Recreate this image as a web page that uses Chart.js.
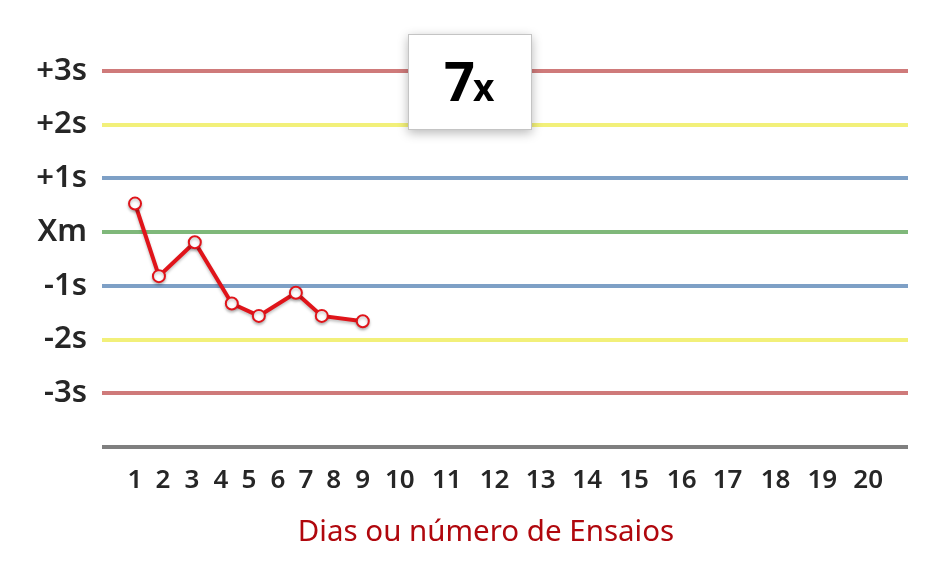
<!DOCTYPE html>
<html>
<head>
<meta charset="utf-8">
<script src="https://cdn.jsdelivr.net/npm/chart.js@4.4.1/dist/chart.umd.min.js"></script>
<style>
  html, body { margin: 0; padding: 0; background: #fff; }
  #wrap { width: 944px; height: 561px; }
</style>
</head>
<body>
<div id="wrap"><canvas id="canvas" width="944" height="561"></canvas></div>
<script>
// dias (rótulos do eixo x) e onde cada rótulo fica no eixo
var dayLabels = ['1', '2', '3', '4', '5', '6', '7', '8', '9', '10',
                 '11', '12', '13', '14', '15', '16', '17', '18', '19', '20'];
var dayTickPos = [1, 1.98, 3.0, 4.02, 5.0, 6.02, 7.0, 7.98, 9.0, 10.3,
                  11.95, 13.63, 15.25, 16.88, 18.53, 20.2, 21.81, 23.5, 25.14, 26.75];

// níveis de controle (em desvios padrão)
var sdLevels = [-4, -3, -2, -1, 0, 1, 2, 3];
var sdLabels = ['', '-3s', '-2s', '-1s', 'Xm', '+1s', '+2s', '+3s'];
var sdColors = ['#7f7f7f', '#cf7a7a', '#f2f07a', '#7ea0c6', '#7fb87a', '#7ea0c6', '#f2f07a', '#cf7a7a'];

// resultados dos ensaios
var pointPos = [1.0, 1.84, 3.1, 4.4, 5.35, 6.65, 7.56, 9.0];
var pointVals = [0.53, -0.82, -0.19, -1.33, -1.56, -1.13, -1.56, -1.66];

var boxPlugin = {
    id: 'caixa7x',
    afterDraw: function (chart) {
        var ctx = chart.ctx;
        ctx.save();
        ctx.shadowColor = 'rgba(0,0,0,0.28)';
        ctx.shadowBlur = 10;
        ctx.shadowOffsetY = 3;
        ctx.fillStyle = '#ffffff';
        ctx.fillRect(408, 34, 124, 96);
        ctx.shadowColor = 'transparent';
        ctx.strokeStyle = '#c4c4c4';
        ctx.lineWidth = 1;
        ctx.strokeRect(408.5, 34.5, 123, 95);
        ctx.fillStyle = '#000000';
        ctx.textBaseline = 'alphabetic';
        ctx.font = 'bold 54px "Noto Sans"';
        ctx.fillText('7', 444, 101);
        ctx.font = 'bold 37px "Noto Sans"';
        ctx.fillText('x', 473, 101);

        ctx.fillStyle = '#b0070d';
        ctx.font = '29.5px "Noto Sans"';
        ctx.textAlign = 'center';
        ctx.fillText('Dias ou número de Ensaios', 486, 541);
        ctx.restore();
    },
    beforeDatasetsDraw: function (chart) {
        chart.ctx.save();
        chart.ctx.shadowColor = 'rgba(0,0,0,0.25)';
        chart.ctx.shadowBlur = 3;
        chart.ctx.shadowOffsetY = 2;
    },
    afterDatasetsDraw: function (chart) {
        chart.ctx.restore();
    }
};

var data = pointPos.map(function (x, i) { return { x: x, y: pointVals[i] }; });

var config = {
    type: 'line',
    data: {
        datasets: [{
            data: data,
            borderColor: '#e0141a',
            borderWidth: 4,
            pointRadius: 6,
            pointBorderWidth: 2,
            pointBackgroundColor: '#ffffff',
            pointBorderColor: '#e0141a',
            tension: 0
        }]
    },
    options: {
        responsive: false,
        animation: false,
        layout: { padding: { top: 44, right: 36, left: 0, bottom: 0 } },
        plugins: { legend: { display: false }, tooltip: { enabled: false } },
        scales: {
            x: {
                type: 'linear',
                min: -0.16,
                max: 28.15,
                grid: { display: false },
                border: { display: false },
                afterBuildTicks: function (scale) {
                    scale.ticks = dayTickPos.map(function (v) { return { value: v }; });
                },
                afterFit: function (scale) { scale.height = 114; },
                ticks: {
                    autoSkip: false,
                    maxRotation: 0,
                    padding: 10,
                    color: '#262626',
                    font: { family: '"Noto Sans"', size: 26, weight: '600' },
                    callback: function (v, i) { return dayLabels[i]; }
                }
            },
            y: {
                type: 'linear',
                min: -4,
                max: 3.5,
                border: { display: false },
                afterBuildTicks: function (scale) {
                    scale.ticks = sdLevels.map(function (v) { return { value: v }; });
                },
                afterFit: function (scale) { scale.width = 102; },
                grid: {
                    drawTicks: false,
                    lineWidth: 4,
                    color: function (c) { return sdColors[c.index]; }
                },
                ticks: {
                    padding: 15,
                    color: '#262626',
                    font: { family: '"Noto Sans"', size: 31, weight: '600' },
                    callback: function (v, i) { return sdLabels[i]; }
                }
            }
        }
    },
    plugins: [boxPlugin]
};

window.myChart = new Chart(document.getElementById('canvas'), config);
</script>
</body>
</html>
